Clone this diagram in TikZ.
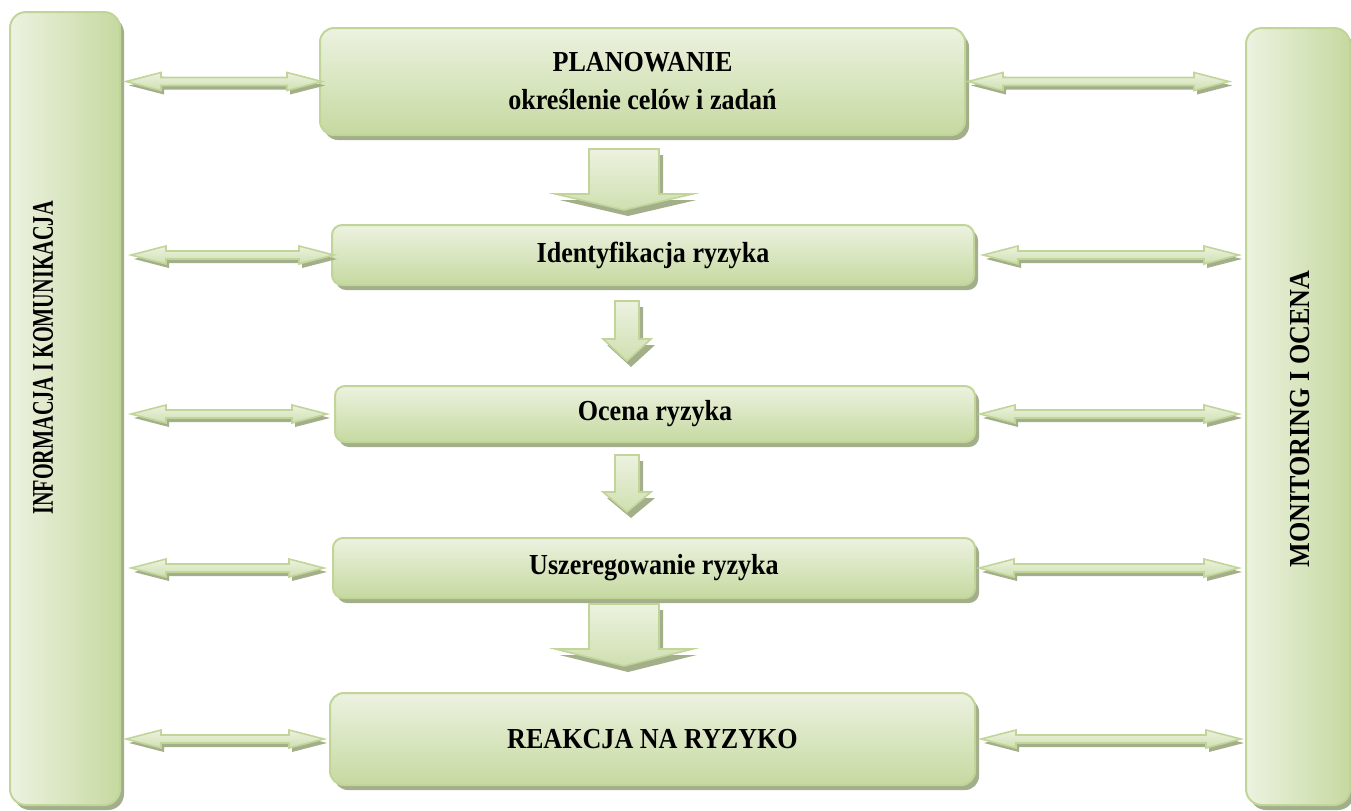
\documentclass[tikz,border=0pt]{standalone}
\usepackage{fontspec}
\usepackage{graphicx}
\setmainfont{Liberation Serif}
\usetikzlibrary{shadows,calc}
\definecolor{lightg}{RGB}{236,242,224}
\definecolor{darkg}{RGB}{198,217,160}
\definecolor{edgeg}{RGB}{194,213,152}
\definecolor{shadg}{RGB}{163,174,139}
\newcommand\sqz[1]{\scalebox{0.9}[1]{#1}}
\tikzset{
  lbl/.style={font=\fontsize{14.5}{19}\selectfont\bfseries, align=center, text=black},
  boxstyle/.style={draw=edgeg, line width=1pt, rounded corners=7pt, inner sep=0pt,
    top color=lightg, bottom color=darkg,
    drop shadow={shadow xshift=2pt, shadow yshift=-2.5pt, fill=shadg, opacity=1}},
  colstyle/.style={boxstyle, left color=lightg, right color=darkg},
  arrowfill/.style={draw=edgeg, line width=0.8pt, top color=lightg, bottom color=darkg!75!lightg},
  arrowshadow/.style={fill=shadg},
}
% horizontal double block arrow between two named coordinates at the same height
\newcommand\hpoly[2]{(#1) -- ++(17.5pt,4.5pt) -- ++(0pt,-2.5pt) -- ($(#2)+(-17.5pt,2pt)$) -- ++(0pt,2.5pt) -- (#2) -- ++(-17.5pt,-4.5pt) -- ++(0pt,2.5pt) -- ($(#1)+(17.5pt,-2pt)$) -- ++(0pt,-2.5pt) -- cycle}
\newcommand\dblarr[4]{%
  \coordinate (hA) at ($#1+(#3,0pt)$);
  \coordinate (hB) at ($#2+(#4,0pt)$);
  \coordinate (hAs) at ($(hA)+(1.5pt,-2pt)$);
  \coordinate (hBs) at ($(hB)+(1.5pt,-2pt)$);
  \fill[arrowshadow] \hpoly{hAs}{hBs};
  \path[arrowfill] \hpoly{hA}{hB};
}
% vertical down block arrow: #1 upper node, #2 lower node, #3 x (px), #4 top gap, #5 bottom gap, #6 shaft half, #7 head half, #8 head length
\newcommand\vpoly[2]{($(#1)+(-\vs,0pt)$) -- ($(#1)+(\vs,0pt)$) -- ($(#2)+(\vs,\vl)$) -- ($(#2)+(\vh,\vl)$) -- (#2) -- ($(#2)+(-\vh,\vl)$) -- ($(#2)+(-\vs,\vl)$) -- cycle}
\newcommand\downarr[8]{%
  \def\vs{#6}\def\vh{#7}\def\vl{#8}%
  \coordinate (vx) at (#3,0);
  \coordinate (vT) at ($(#1.south -| vx)+(0pt,-#4)$);
  \coordinate (vP) at ($(#2.north -| vx)+(0pt,#5)$);
  \coordinate (vTs) at ($(vT)+(2pt,-3pt)$);
  \coordinate (vPs) at ($(vP)+(2pt,-3pt)$);
  \fill[arrowshadow] \vpoly{vTs}{vPs};
  \path[arrowfill] \vpoly{vT}{vP};
}
\begin{document}
\begin{tikzpicture}[x=0.5pt,y=-0.5pt]
\useasboundingbox (0,0) rectangle (1351,810);
% side columns
\node[colstyle, rounded corners=8pt, minimum width=55pt, minimum height=396.5pt] (info) at (65,408.5) {};
\node[colstyle, rounded corners=8pt, minimum width=52pt, minimum height=388.5pt] (mon) at (1298,416.5) {};
\node[lbl, font=\fontsize{15}{19}\selectfont\bfseries, rotate=90] (infot) at (43,358) {\scalebox{0.674}[1]{INFORMACJA I KOMUNIKACJA}};
\node[lbl, rotate=90] (mont) at (1300,419) {\sqz{MONITORING I OCENA}};
% process boxes
\node[boxstyle, lbl, minimum width=322.5pt, minimum height=53.5pt] (plan) at (642.5,81.5) {\sqz{PLANOWANIE}\\\sqz{określenie celów i zadań}};
\node[boxstyle, lbl, rounded corners=5pt, minimum width=321pt, minimum height=30pt] (ident) at (653,255) {\sqz{Identyfikacja ryzyka}};
\node[boxstyle, lbl, rounded corners=5pt, minimum width=320pt, minimum height=28pt] (ocena) at (655,414) {\sqz{Ocena ryzyka}};
\node[boxstyle, lbl, rounded corners=5pt, minimum width=321pt, minimum height=30pt] (usz) at (654,568) {\sqz{Uszeregowanie ryzyka}};
\node[boxstyle, lbl, minimum width=322.5pt, minimum height=46pt] (reak) at (652.5,739) {\sqz{REAKCJA NA RYZYKO}};
% down arrows
\downarr{plan}{ident}{624}{6.5pt}{7pt}{17.5pt}{34.25pt}{8pt}
\downarr{ident}{ocena}{627}{7.5pt}{12pt}{6pt}{12pt}{11pt}
\downarr{ocena}{usz}{627}{6pt}{12.5pt}{6pt}{12pt}{10pt}
\downarr{usz}{reak}{624}{2.5pt}{13pt}{17.5pt}{34.25pt}{8.5pt}
% left double arrows
\dblarr{(info.east |- plan.west)}{(plan.west)}{2.5pt}{1.5pt}
\dblarr{(info.east |- ident.west)}{(ident.west)}{5pt}{1.5pt}
\dblarr{(info.east |- ocena.west)}{(ocena.west)}{5pt}{-3.5pt}
\dblarr{(info.east |- usz.west)}{(usz.west)}{5pt}{-4pt}
\dblarr{(info.east |- reak.west)}{(reak.west)}{2.5pt}{-2.5pt}
% right double arrows
\dblarr{(plan.east)}{(mon.west |- plan.east)}{1pt}{-8pt}
\dblarr{(ident.east)}{(mon.west |- ident.east)}{4pt}{-3pt}
\dblarr{(ocena.east)}{(mon.west |- ocena.east)}{2pt}{-3pt}
\dblarr{(usz.east)}{(mon.west |- usz.east)}{1.5pt}{-3pt}
\dblarr{(reak.east)}{(mon.west |- reak.east)}{2.5pt}{-2pt}
\end{tikzpicture}
\end{document}
